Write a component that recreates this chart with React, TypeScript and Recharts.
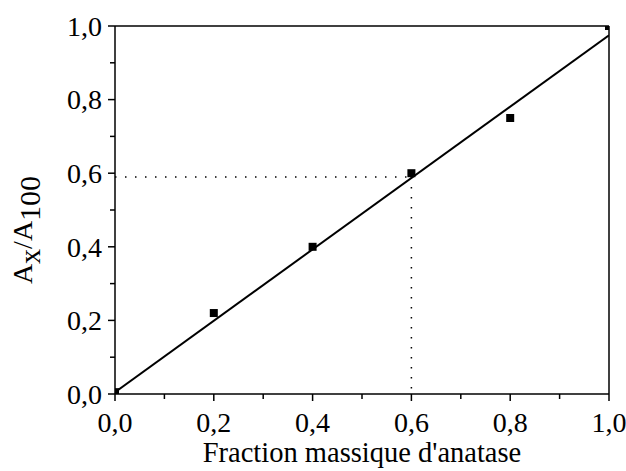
import React from 'react';
import { ComposedChart, XAxis, YAxis, Scatter, ReferenceLine, Label } from 'recharts';

const fractions = [0, 0.2, 0.4, 0.6, 0.8, 1.0];
const ratios = [0.005, 0.22, 0.4, 0.6, 0.75, 1.0];
const fitX = [0, 1.0];
const fitY = [0.005, 0.975];
const tickValues = [0, 0.1, 0.2, 0.3, 0.4, 0.5, 0.6, 0.7, 0.8, 0.9, 1.0];
const majorTicks = [0, 0.2, 0.4, 0.6, 0.8, 1.0];
const readX = 0.6;
const readY = 0.59;
const xTitle = "Fraction massique d'anatase";

const points = fractions.map((x, i) => ({ x, y: ratios[i] }));
const fitData = fitX.map((x, i) => ({ x, y: fitY[i] }));

const FONT = "'Liberation Serif', 'Times New Roman', Times, serif";
const textStyle: React.CSSProperties = { fontFamily: FONT };
const fmt = (v: number) => v.toFixed(1).replace('.', ',');
const isMajor = (v: number) => majorTicks.some((m) => Math.abs(m - v) < 1e-6);

const XTick = (props: any) => {
  const { x, y, payload } = props;
  const major = isMajor(payload.value);
  return (
    <g>
      <line x1={x} x2={x} y1={y} y2={y + (major ? 7 : 5)} stroke="#000" strokeWidth={1.5} />
      {major && (
        <text x={x} y={y + 38} textAnchor="middle" style={textStyle} fontSize={28} fill="#000">
          {fmt(payload.value)}
        </text>
      )}
    </g>
  );
};

const YTick = (props: any) => {
  const { x, y, payload } = props;
  const major = isMajor(payload.value);
  return (
    <g>
      <line x1={x} x2={x - (major ? 7 : 5)} y1={y} y2={y} stroke="#000" strokeWidth={1.5} />
      {major && (
        <text x={x - 13} y={y} dy="0.35em" textAnchor="end" style={textStyle} fontSize={28} fill="#000">
          {fmt(payload.value)}
        </text>
      )}
    </g>
  );
};

const Square = (props: any) => {
  const { cx, cy } = props;
  if (cx == null || cy == null) return <g />;
  return <rect x={cx - 4} y={cy - 4} width={8} height={8} fill="#000" />;
};

const NoDot = () => <g />;

const YTitle = () => (
  <text
    transform="translate(32,230) rotate(-90)"
    textAnchor="middle"
    style={textStyle}
    fontSize={28}
    fill="#000"
  >
    A<tspan dy={8} fontSize={30}>x</tspan>
    <tspan dy={-8}>/A</tspan>
    <tspan dy={8} fontSize={30}>100</tspan>
  </text>
);

const XTitle = () => (
  <text x={362} y={462} textAnchor="middle" style={textStyle} fontSize={28.5} fill="#000">
    {xTitle}
  </text>
);

export default function App() {
  return (
    <div style={{ width: 626, height: 471, fontFamily: FONT }}>
      <style>{'html,body{margin:0;padding:0;overflow:hidden;}'}</style>
      <ComposedChart
        width={626}
        height={471}
        margin={{ top: 26, right: 17, left: 0, bottom: 0 }}
        style={{ fontFamily: FONT }}
      >
        <XAxis
          dataKey="x"
          type="number"
          domain={[0, 1]}
          ticks={tickValues}
          allowDataOverflow
          height={77}
          tickSize={0}
          tickMargin={0}
          tickLine={false}
          tick={<XTick />}
          axisLine={{ stroke: '#000', strokeWidth: 1.5 }}
          interval={0}
        >
          <Label content={<XTitle />} />
        </XAxis>
        <YAxis
          dataKey="y"
          type="number"
          domain={[0, 1]}
          ticks={tickValues}
          allowDataOverflow
          width={115}
          tickSize={0}
          tickMargin={0}
          tickLine={false}
          tick={<YTick />}
          axisLine={{ stroke: '#000', strokeWidth: 1.5 }}
          interval={0}
        >
          <Label content={<YTitle />} />
        </YAxis>
        <ReferenceLine y={1} stroke="#000" strokeWidth={1.5} />
        <ReferenceLine x={1} stroke="#000" strokeWidth={1.5} />
        <ReferenceLine
          segment={[{ x: 0, y: readY }, { x: readX, y: readY }]}
          stroke="#000"
          strokeWidth={1.5}
          strokeDasharray="1.5 8.5"
        />
        <ReferenceLine
          segment={[{ x: readX, y: readY }, { x: readX, y: 0 }]}
          stroke="#000"
          strokeWidth={1.5}
          strokeDasharray="1.5 8.5"
        />
        <Scatter
          data={fitData}
          dataKey="y"
          line={{ stroke: '#000', strokeWidth: 2 }}
          shape={<NoDot />}
          isAnimationActive={false}
        />
        <Scatter data={points} dataKey="y" shape={<Square />} isAnimationActive={false} />
      </ComposedChart>
    </div>
  );
}
